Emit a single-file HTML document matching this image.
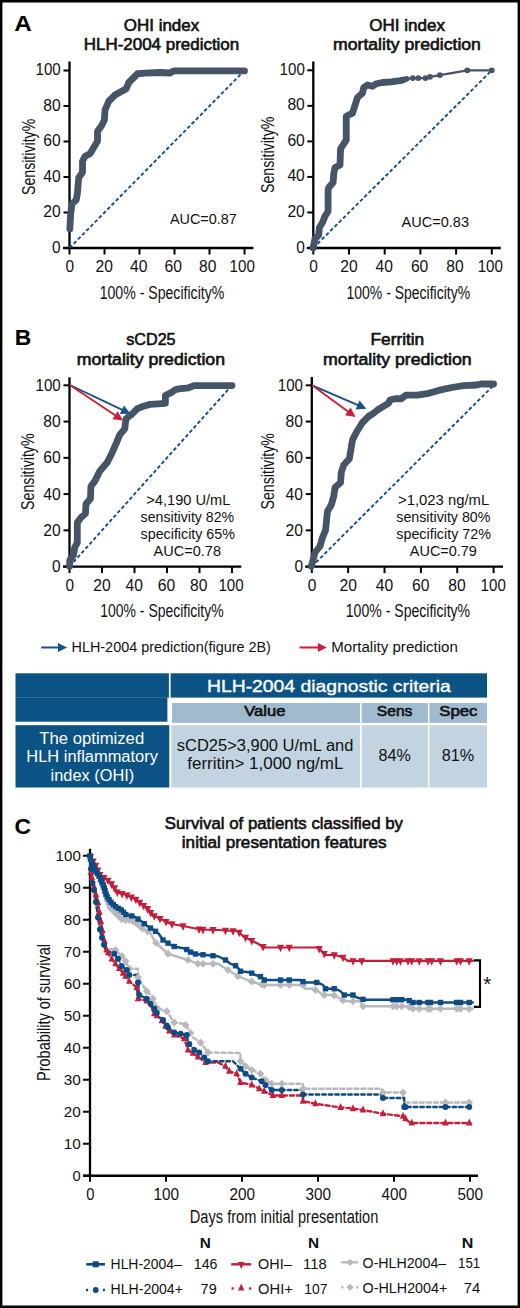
<!DOCTYPE html><html><head><meta charset="utf-8"><style>html,body{margin:0;padding:0;background:#fff}svg{display:block}</style></head><body>
<svg width="520" height="1308" viewBox="0 0 520 1308" font-family='"Liberation Sans", sans-serif'>
<rect x="0" y="0" width="520" height="1308" fill="#000"/>
<rect x="2.4" y="2.5" width="515.2" height="1303" fill="#fff"/>
<text x="14.20" y="30.60" font-size="22.5" font-weight="bold" fill="#000" text-anchor="start" textLength="17.6" lengthAdjust="spacingAndGlyphs">A</text>
<text x="123.80" y="30.60" font-size="15.8" font-weight="normal" fill="#111" text-anchor="start" textLength="75.40" lengthAdjust="spacingAndGlyphs" stroke="#111" stroke-width="0.6">OHI index</text>
<text x="83.80" y="49.60" font-size="15.8" font-weight="normal" fill="#111" text-anchor="start" textLength="155.40" lengthAdjust="spacingAndGlyphs" stroke="#111" stroke-width="0.6">HLH-2004 prediction</text>
<text x="369.30" y="30.60" font-size="15.8" font-weight="normal" fill="#111" text-anchor="start" textLength="75.60" lengthAdjust="spacingAndGlyphs" stroke="#111" stroke-width="0.6">OHI index</text>
<text x="333.10" y="49.60" font-size="15.8" font-weight="normal" fill="#111" text-anchor="start" textLength="147.80" lengthAdjust="spacingAndGlyphs" stroke="#111" stroke-width="0.6">mortality prediction</text>
<line x1="69.50" y1="61.50" x2="69.50" y2="249.10" stroke="#000" stroke-width="2.3"/>
<line x1="63.00" y1="248.00" x2="253.50" y2="248.00" stroke="#000" stroke-width="2.4"/>
<line x1="63.50" y1="248.00" x2="69.50" y2="248.00" stroke="#000" stroke-width="2.0"/>
<text x="52.10" y="252.50" font-size="16.0" font-weight="normal" fill="#111" text-anchor="start" textLength="8.60" lengthAdjust="spacingAndGlyphs">0</text>
<line x1="69.50" y1="248.00" x2="69.50" y2="254.50" stroke="#000" stroke-width="2.0"/>
<text x="65.50" y="272.30" font-size="16.0" font-weight="normal" fill="#111" text-anchor="start" textLength="8.60" lengthAdjust="spacingAndGlyphs">0</text>
<line x1="63.50" y1="212.50" x2="69.50" y2="212.50" stroke="#000" stroke-width="2.0"/>
<text x="43.30" y="217.00" font-size="16.0" font-weight="normal" fill="#111" text-anchor="start" textLength="17.40" lengthAdjust="spacingAndGlyphs">20</text>
<line x1="104.50" y1="248.00" x2="104.50" y2="254.50" stroke="#000" stroke-width="2.0"/>
<text x="95.58" y="272.30" font-size="16.0" font-weight="normal" fill="#111" text-anchor="start" textLength="17.40" lengthAdjust="spacingAndGlyphs">20</text>
<line x1="63.50" y1="177.00" x2="69.50" y2="177.00" stroke="#000" stroke-width="2.0"/>
<text x="43.30" y="181.50" font-size="16.0" font-weight="normal" fill="#111" text-anchor="start" textLength="17.40" lengthAdjust="spacingAndGlyphs">40</text>
<line x1="139.50" y1="248.00" x2="139.50" y2="254.50" stroke="#000" stroke-width="2.0"/>
<text x="130.06" y="272.30" font-size="16.0" font-weight="normal" fill="#111" text-anchor="start" textLength="17.40" lengthAdjust="spacingAndGlyphs">40</text>
<line x1="63.50" y1="141.50" x2="69.50" y2="141.50" stroke="#000" stroke-width="2.0"/>
<text x="43.30" y="146.00" font-size="16.0" font-weight="normal" fill="#111" text-anchor="start" textLength="17.40" lengthAdjust="spacingAndGlyphs">60</text>
<line x1="174.50" y1="248.00" x2="174.50" y2="254.50" stroke="#000" stroke-width="2.0"/>
<text x="164.54" y="272.30" font-size="16.0" font-weight="normal" fill="#111" text-anchor="start" textLength="17.40" lengthAdjust="spacingAndGlyphs">60</text>
<line x1="63.50" y1="106.00" x2="69.50" y2="106.00" stroke="#000" stroke-width="2.0"/>
<text x="43.30" y="110.50" font-size="16.0" font-weight="normal" fill="#111" text-anchor="start" textLength="17.40" lengthAdjust="spacingAndGlyphs">80</text>
<line x1="209.50" y1="248.00" x2="209.50" y2="254.50" stroke="#000" stroke-width="2.0"/>
<text x="199.02" y="272.30" font-size="16.0" font-weight="normal" fill="#111" text-anchor="start" textLength="17.40" lengthAdjust="spacingAndGlyphs">80</text>
<line x1="63.50" y1="70.50" x2="69.50" y2="70.50" stroke="#000" stroke-width="2.0"/>
<text x="35.50" y="75.00" font-size="16.0" font-weight="normal" fill="#111" text-anchor="start" textLength="25.20" lengthAdjust="spacingAndGlyphs">100</text>
<line x1="244.50" y1="248.00" x2="244.50" y2="254.50" stroke="#000" stroke-width="2.0"/>
<text x="229.60" y="272.30" font-size="16.0" font-weight="normal" fill="#111" text-anchor="start" textLength="25.20" lengthAdjust="spacingAndGlyphs">100</text>
<line x1="69.50" y1="248.00" x2="244.50" y2="70.50" stroke="#124d87" stroke-width="1.9" stroke-dasharray="3.6,2.4"/>
<text transform="translate(34.60,156.90) rotate(-90)" x="-38.10" y="0" font-size="18.8" fill="#111" textLength="76.20" lengthAdjust="spacingAndGlyphs">Sensitivity%</text>
<text x="99.70" y="298.50" font-size="18.8" font-weight="normal" fill="#111" text-anchor="start" textLength="124.60" lengthAdjust="spacingAndGlyphs">100% - Specificity%</text>
<text x="169.90" y="223.50" font-size="14.0" font-weight="normal" fill="#111" text-anchor="start" textLength="66.90" lengthAdjust="spacingAndGlyphs">AUC=0.87</text>
<polyline points="69.80,229.00 70.60,215.00 71.90,203.75 76.25,200.00 77.50,192.50 78.10,185.00 78.75,177.50 82.50,172.50 82.50,161.25 85.00,156.25 90.00,153.75 97.50,141.25 97.50,131.25 101.25,126.25 104.40,120.00 105.00,110.00 108.75,101.25 115.00,95.00 126.25,88.75 128.75,82.50 137.50,73.75 145.00,73.10 160.00,72.50 170.00,73.00 173.75,70.90 244.50,70.90" fill="none" stroke="#455467" stroke-width="6.8" stroke-linejoin="round" stroke-linecap="round"/>
<line x1="313.30" y1="61.50" x2="313.30" y2="249.10" stroke="#000" stroke-width="2.3"/>
<line x1="306.80" y1="248.00" x2="500.80" y2="248.00" stroke="#000" stroke-width="2.4"/>
<line x1="307.30" y1="248.00" x2="313.30" y2="248.00" stroke="#000" stroke-width="2.0"/>
<text x="296.20" y="252.50" font-size="16.0" font-weight="normal" fill="#111" text-anchor="start" textLength="8.60" lengthAdjust="spacingAndGlyphs">0</text>
<line x1="313.30" y1="248.00" x2="313.30" y2="254.50" stroke="#000" stroke-width="2.0"/>
<text x="309.30" y="272.30" font-size="16.0" font-weight="normal" fill="#111" text-anchor="start" textLength="8.60" lengthAdjust="spacingAndGlyphs">0</text>
<line x1="307.30" y1="212.46" x2="313.30" y2="212.46" stroke="#000" stroke-width="2.0"/>
<text x="287.40" y="216.96" font-size="16.0" font-weight="normal" fill="#111" text-anchor="start" textLength="17.40" lengthAdjust="spacingAndGlyphs">20</text>
<line x1="349.00" y1="248.00" x2="349.00" y2="254.50" stroke="#000" stroke-width="2.0"/>
<text x="340.24" y="272.30" font-size="16.0" font-weight="normal" fill="#111" text-anchor="start" textLength="17.40" lengthAdjust="spacingAndGlyphs">20</text>
<line x1="307.30" y1="176.92" x2="313.30" y2="176.92" stroke="#000" stroke-width="2.0"/>
<text x="287.40" y="181.42" font-size="16.0" font-weight="normal" fill="#111" text-anchor="start" textLength="17.40" lengthAdjust="spacingAndGlyphs">40</text>
<line x1="384.70" y1="248.00" x2="384.70" y2="254.50" stroke="#000" stroke-width="2.0"/>
<text x="375.58" y="272.30" font-size="16.0" font-weight="normal" fill="#111" text-anchor="start" textLength="17.40" lengthAdjust="spacingAndGlyphs">40</text>
<line x1="307.30" y1="141.38" x2="313.30" y2="141.38" stroke="#000" stroke-width="2.0"/>
<text x="287.40" y="145.88" font-size="16.0" font-weight="normal" fill="#111" text-anchor="start" textLength="17.40" lengthAdjust="spacingAndGlyphs">60</text>
<line x1="420.40" y1="248.00" x2="420.40" y2="254.50" stroke="#000" stroke-width="2.0"/>
<text x="410.92" y="272.30" font-size="16.0" font-weight="normal" fill="#111" text-anchor="start" textLength="17.40" lengthAdjust="spacingAndGlyphs">60</text>
<line x1="307.30" y1="105.84" x2="313.30" y2="105.84" stroke="#000" stroke-width="2.0"/>
<text x="287.40" y="110.34" font-size="16.0" font-weight="normal" fill="#111" text-anchor="start" textLength="17.40" lengthAdjust="spacingAndGlyphs">80</text>
<line x1="456.10" y1="248.00" x2="456.10" y2="254.50" stroke="#000" stroke-width="2.0"/>
<text x="446.26" y="272.30" font-size="16.0" font-weight="normal" fill="#111" text-anchor="start" textLength="17.40" lengthAdjust="spacingAndGlyphs">80</text>
<line x1="307.30" y1="70.30" x2="313.30" y2="70.30" stroke="#000" stroke-width="2.0"/>
<text x="279.60" y="74.80" font-size="16.0" font-weight="normal" fill="#111" text-anchor="start" textLength="25.20" lengthAdjust="spacingAndGlyphs">100</text>
<line x1="491.80" y1="248.00" x2="491.80" y2="254.50" stroke="#000" stroke-width="2.0"/>
<text x="477.70" y="272.30" font-size="16.0" font-weight="normal" fill="#111" text-anchor="start" textLength="25.20" lengthAdjust="spacingAndGlyphs">100</text>
<line x1="313.30" y1="248.00" x2="491.80" y2="70.30" stroke="#124d87" stroke-width="1.9" stroke-dasharray="3.6,2.4"/>
<text transform="translate(274.20,154.80) rotate(-90)" x="-38.30" y="0" font-size="18.8" fill="#111" textLength="76.60" lengthAdjust="spacingAndGlyphs">Sensitivity%</text>
<text x="346.50" y="298.50" font-size="18.8" font-weight="normal" fill="#111" text-anchor="start" textLength="123.60" lengthAdjust="spacingAndGlyphs">100% - Specificity%</text>
<text x="401.60" y="227.30" font-size="14.0" font-weight="normal" fill="#111" text-anchor="start" textLength="67.40" lengthAdjust="spacingAndGlyphs">AUC=0.83</text>
<polyline points="313.10,248.00 313.75,245.00 315.00,238.75 318.75,235.00 319.40,227.50 322.50,222.50 325.00,216.25 328.10,211.25 328.10,190.00 328.75,187.50 333.10,182.50 333.75,173.75 335.00,167.50 340.00,165.00 340.60,148.75 343.75,143.75 346.25,140.00 346.25,116.25 352.50,113.10 357.50,97.50 362.50,93.10 363.75,87.50 367.50,85.00 372.50,86.25 376.25,83.75 382.50,82.50 391.25,81.90 400.00,80.60 403.00,80.00" fill="none" stroke="#455467" stroke-width="6.8" stroke-linejoin="round" stroke-linecap="round"/>
<polyline points="402.76,79.90 406.51,78.83 412.77,78.12 418.31,78.12 425.47,78.12 429.94,76.87 439.95,75.10 467.30,70.30 491.80,70.30" fill="none" stroke="#455467" stroke-width="2.2" stroke-linejoin="round" stroke-linecap="round"/>
<circle cx="402.76" cy="79.90" r="2.9" fill="#455467"/>
<circle cx="406.51" cy="78.83" r="2.9" fill="#455467"/>
<circle cx="412.77" cy="78.12" r="2.9" fill="#455467"/>
<circle cx="418.31" cy="78.12" r="2.9" fill="#455467"/>
<circle cx="425.47" cy="78.12" r="2.9" fill="#455467"/>
<circle cx="429.94" cy="76.87" r="2.9" fill="#455467"/>
<circle cx="439.95" cy="75.10" r="2.9" fill="#455467"/>
<circle cx="467.30" cy="70.30" r="2.9" fill="#455467"/>
<circle cx="491.80" cy="70.30" r="2.9" fill="#455467"/>
<text x="14.80" y="345.20" font-size="22.5" font-weight="bold" fill="#000" text-anchor="start" textLength="16.5" lengthAdjust="spacingAndGlyphs">B</text>
<text x="126.30" y="345.20" font-size="15.8" font-weight="normal" fill="#111" text-anchor="start" textLength="49.30" lengthAdjust="spacingAndGlyphs" stroke="#111" stroke-width="0.6">sCD25</text>
<text x="76.80" y="364.60" font-size="15.8" font-weight="normal" fill="#111" text-anchor="start" textLength="148.20" lengthAdjust="spacingAndGlyphs" stroke="#111" stroke-width="0.6">mortality prediction</text>
<text x="370.50" y="345.20" font-size="15.8" font-weight="normal" fill="#111" text-anchor="start" textLength="53.70" lengthAdjust="spacingAndGlyphs" stroke="#111" stroke-width="0.6">Ferritin</text>
<text x="323.10" y="364.60" font-size="15.8" font-weight="normal" fill="#111" text-anchor="start" textLength="148.60" lengthAdjust="spacingAndGlyphs" stroke="#111" stroke-width="0.6">mortality prediction</text>
<line x1="69.50" y1="377.30" x2="69.50" y2="567.70" stroke="#000" stroke-width="2.3"/>
<line x1="63.00" y1="566.60" x2="241.30" y2="566.60" stroke="#000" stroke-width="2.4"/>
<line x1="63.50" y1="566.60" x2="69.50" y2="566.60" stroke="#000" stroke-width="2.0"/>
<text x="52.10" y="572.20" font-size="16.0" font-weight="normal" fill="#111" text-anchor="start" textLength="8.60" lengthAdjust="spacingAndGlyphs">0</text>
<line x1="69.50" y1="566.60" x2="69.50" y2="573.10" stroke="#000" stroke-width="2.0"/>
<text x="65.50" y="591.00" font-size="16.0" font-weight="normal" fill="#111" text-anchor="start" textLength="8.60" lengthAdjust="spacingAndGlyphs">0</text>
<line x1="63.50" y1="530.34" x2="69.50" y2="530.34" stroke="#000" stroke-width="2.0"/>
<text x="43.30" y="535.94" font-size="16.0" font-weight="normal" fill="#111" text-anchor="start" textLength="17.40" lengthAdjust="spacingAndGlyphs">20</text>
<line x1="102.00" y1="566.60" x2="102.00" y2="573.10" stroke="#000" stroke-width="2.0"/>
<text x="93.34" y="591.00" font-size="16.0" font-weight="normal" fill="#111" text-anchor="start" textLength="17.40" lengthAdjust="spacingAndGlyphs">20</text>
<line x1="63.50" y1="494.08" x2="69.50" y2="494.08" stroke="#000" stroke-width="2.0"/>
<text x="43.30" y="499.68" font-size="16.0" font-weight="normal" fill="#111" text-anchor="start" textLength="17.40" lengthAdjust="spacingAndGlyphs">40</text>
<line x1="134.50" y1="566.60" x2="134.50" y2="573.10" stroke="#000" stroke-width="2.0"/>
<text x="125.58" y="591.00" font-size="16.0" font-weight="normal" fill="#111" text-anchor="start" textLength="17.40" lengthAdjust="spacingAndGlyphs">40</text>
<line x1="63.50" y1="457.82" x2="69.50" y2="457.82" stroke="#000" stroke-width="2.0"/>
<text x="43.30" y="463.42" font-size="16.0" font-weight="normal" fill="#111" text-anchor="start" textLength="17.40" lengthAdjust="spacingAndGlyphs">60</text>
<line x1="167.00" y1="566.60" x2="167.00" y2="573.10" stroke="#000" stroke-width="2.0"/>
<text x="157.82" y="591.00" font-size="16.0" font-weight="normal" fill="#111" text-anchor="start" textLength="17.40" lengthAdjust="spacingAndGlyphs">60</text>
<line x1="63.50" y1="421.56" x2="69.50" y2="421.56" stroke="#000" stroke-width="2.0"/>
<text x="43.30" y="427.16" font-size="16.0" font-weight="normal" fill="#111" text-anchor="start" textLength="17.40" lengthAdjust="spacingAndGlyphs">80</text>
<line x1="199.50" y1="566.60" x2="199.50" y2="573.10" stroke="#000" stroke-width="2.0"/>
<text x="190.06" y="591.00" font-size="16.0" font-weight="normal" fill="#111" text-anchor="start" textLength="17.40" lengthAdjust="spacingAndGlyphs">80</text>
<line x1="63.50" y1="385.30" x2="69.50" y2="385.30" stroke="#000" stroke-width="2.0"/>
<text x="35.50" y="390.90" font-size="16.0" font-weight="normal" fill="#111" text-anchor="start" textLength="25.20" lengthAdjust="spacingAndGlyphs">100</text>
<line x1="232.00" y1="566.60" x2="232.00" y2="573.10" stroke="#000" stroke-width="2.0"/>
<text x="218.40" y="591.00" font-size="16.0" font-weight="normal" fill="#111" text-anchor="start" textLength="25.20" lengthAdjust="spacingAndGlyphs">100</text>
<line x1="69.50" y1="566.60" x2="232.00" y2="385.30" stroke="#124d87" stroke-width="1.9" stroke-dasharray="3.6,2.4"/>
<text transform="translate(34.40,471.70) rotate(-90)" x="-38.30" y="0" font-size="18.8" fill="#111" textLength="76.60" lengthAdjust="spacingAndGlyphs">Sensitivity%</text>
<text x="100.30" y="617.30" font-size="18.8" font-weight="normal" fill="#111" text-anchor="start" textLength="123.30" lengthAdjust="spacingAndGlyphs">100% - Specificity%</text>
<text x="146.30" y="505.00" font-size="14.0" font-weight="normal" fill="#111" text-anchor="start" textLength="84.10" lengthAdjust="spacingAndGlyphs">&gt;4,190 U/mL</text>
<text x="140.60" y="522.00" font-size="14.0" font-weight="normal" fill="#111" text-anchor="start" textLength="93.60" lengthAdjust="spacingAndGlyphs">sensitivity 82%</text>
<text x="140.60" y="538.80" font-size="14.0" font-weight="normal" fill="#111" text-anchor="start" textLength="94.30" lengthAdjust="spacingAndGlyphs">specificity 65%</text>
<text x="153.60" y="555.50" font-size="14.0" font-weight="normal" fill="#111" text-anchor="start" textLength="67.40" lengthAdjust="spacingAndGlyphs">AUC=0.78</text>
<polyline points="69.50,566.30 69.83,559.98 73.56,555.10 74.70,547.51 77.30,542.63 77.30,522.57 81.04,517.51 85.42,513.72 86.08,503.78 90.46,498.72 90.95,486.25 94.69,481.37 99.73,471.25 107.20,462.58 112.24,452.46 115.97,443.79 119.71,434.93 124.75,428.79 126.05,418.67 130.92,415.05 137.26,408.73 143.44,406.20 149.94,404.39 165.38,403.31 165.38,395.54 171.06,392.65 175.12,389.76 178.86,388.85 188.45,387.77 194.14,385.60 232.00,385.60" fill="none" stroke="#455467" stroke-width="6.8" stroke-linejoin="round" stroke-linecap="round"/>
<line x1="69.80" y1="385.00" x2="122.82" y2="410.16" stroke="#165189" stroke-width="1.9"/>
<polygon points="130.50,413.80 119.86,414.06 123.97,405.39" fill="#165189"/>
<line x1="69.80" y1="385.00" x2="115.93" y2="415.78" stroke="#c8203c" stroke-width="1.9"/>
<polygon points="123.00,420.50 112.43,419.22 117.76,411.23" fill="#c8203c"/>
<line x1="311.80" y1="377.00" x2="311.80" y2="567.70" stroke="#000" stroke-width="2.3"/>
<line x1="305.30" y1="566.60" x2="503.00" y2="566.60" stroke="#000" stroke-width="2.4"/>
<line x1="305.80" y1="566.60" x2="311.80" y2="566.60" stroke="#000" stroke-width="2.0"/>
<text x="294.40" y="572.20" font-size="16.0" font-weight="normal" fill="#111" text-anchor="start" textLength="8.60" lengthAdjust="spacingAndGlyphs">0</text>
<line x1="311.80" y1="566.60" x2="311.80" y2="573.10" stroke="#000" stroke-width="2.0"/>
<text x="307.80" y="591.00" font-size="16.0" font-weight="normal" fill="#111" text-anchor="start" textLength="8.60" lengthAdjust="spacingAndGlyphs">0</text>
<line x1="305.80" y1="530.34" x2="311.80" y2="530.34" stroke="#000" stroke-width="2.0"/>
<text x="285.60" y="535.94" font-size="16.0" font-weight="normal" fill="#111" text-anchor="start" textLength="17.40" lengthAdjust="spacingAndGlyphs">20</text>
<line x1="348.16" y1="566.60" x2="348.16" y2="573.10" stroke="#000" stroke-width="2.0"/>
<text x="339.62" y="591.00" font-size="16.0" font-weight="normal" fill="#111" text-anchor="start" textLength="17.40" lengthAdjust="spacingAndGlyphs">20</text>
<line x1="305.80" y1="494.08" x2="311.80" y2="494.08" stroke="#000" stroke-width="2.0"/>
<text x="285.60" y="499.68" font-size="16.0" font-weight="normal" fill="#111" text-anchor="start" textLength="17.40" lengthAdjust="spacingAndGlyphs">40</text>
<line x1="384.52" y1="566.60" x2="384.52" y2="573.10" stroke="#000" stroke-width="2.0"/>
<text x="375.84" y="591.00" font-size="16.0" font-weight="normal" fill="#111" text-anchor="start" textLength="17.40" lengthAdjust="spacingAndGlyphs">40</text>
<line x1="305.80" y1="457.82" x2="311.80" y2="457.82" stroke="#000" stroke-width="2.0"/>
<text x="285.60" y="463.42" font-size="16.0" font-weight="normal" fill="#111" text-anchor="start" textLength="17.40" lengthAdjust="spacingAndGlyphs">60</text>
<line x1="420.88" y1="566.60" x2="420.88" y2="573.10" stroke="#000" stroke-width="2.0"/>
<text x="412.06" y="591.00" font-size="16.0" font-weight="normal" fill="#111" text-anchor="start" textLength="17.40" lengthAdjust="spacingAndGlyphs">60</text>
<line x1="305.80" y1="421.56" x2="311.80" y2="421.56" stroke="#000" stroke-width="2.0"/>
<text x="285.60" y="427.16" font-size="16.0" font-weight="normal" fill="#111" text-anchor="start" textLength="17.40" lengthAdjust="spacingAndGlyphs">80</text>
<line x1="457.24" y1="566.60" x2="457.24" y2="573.10" stroke="#000" stroke-width="2.0"/>
<text x="448.28" y="591.00" font-size="16.0" font-weight="normal" fill="#111" text-anchor="start" textLength="17.40" lengthAdjust="spacingAndGlyphs">80</text>
<line x1="305.80" y1="385.30" x2="311.80" y2="385.30" stroke="#000" stroke-width="2.0"/>
<text x="277.80" y="390.90" font-size="16.0" font-weight="normal" fill="#111" text-anchor="start" textLength="25.20" lengthAdjust="spacingAndGlyphs">100</text>
<line x1="493.60" y1="566.60" x2="493.60" y2="573.10" stroke="#000" stroke-width="2.0"/>
<text x="480.60" y="591.00" font-size="16.0" font-weight="normal" fill="#111" text-anchor="start" textLength="25.20" lengthAdjust="spacingAndGlyphs">100</text>
<line x1="311.80" y1="566.60" x2="493.60" y2="385.30" stroke="#124d87" stroke-width="1.9" stroke-dasharray="3.6,2.4"/>
<text transform="translate(273.90,471.30) rotate(-90)" x="-38.25" y="0" font-size="18.8" fill="#111" textLength="76.50" lengthAdjust="spacingAndGlyphs">Sensitivity%</text>
<text x="345.80" y="617.30" font-size="18.8" font-weight="normal" fill="#111" text-anchor="start" textLength="124.30" lengthAdjust="spacingAndGlyphs">100% - Specificity%</text>
<text x="398.10" y="505.00" font-size="14.0" font-weight="normal" fill="#111" text-anchor="start" textLength="91.10" lengthAdjust="spacingAndGlyphs">&gt;1,023 ng/mL</text>
<text x="396.30" y="522.00" font-size="14.0" font-weight="normal" fill="#111" text-anchor="start" textLength="94.10" lengthAdjust="spacingAndGlyphs">sensitivity 80%</text>
<text x="396.30" y="538.80" font-size="14.0" font-weight="normal" fill="#111" text-anchor="start" textLength="94.60" lengthAdjust="spacingAndGlyphs">specificity 72%</text>
<text x="409.80" y="555.50" font-size="14.0" font-weight="normal" fill="#111" text-anchor="start" textLength="67.10" lengthAdjust="spacingAndGlyphs">AUC=0.79</text>
<polyline points="311.25,566.25 313.10,560.00 315.00,552.50 320.00,546.25 322.50,537.50 325.60,530.00 327.50,511.25 331.25,505.00 333.75,496.25 335.00,487.50 340.60,482.50 341.25,472.50 343.75,465.00 349.40,458.75 351.25,447.50 352.50,440.00 356.25,432.50 362.50,422.50 368.75,416.25 373.75,413.10 377.50,410.00 382.50,406.90 388.75,403.10 390.00,400.00 395.00,398.75 401.25,398.75 405.80,395.20 417.30,395.20 428.80,393.30 438.50,390.40 451.90,387.50 463.50,385.60 476.90,385.00 480.80,384.00 493.60,384.00" fill="none" stroke="#455467" stroke-width="6.8" stroke-linejoin="round" stroke-linecap="round"/>
<line x1="312.20" y1="385.30" x2="358.50" y2="405.41" stroke="#165189" stroke-width="1.9"/>
<polygon points="366.30,408.80 355.67,409.42 359.50,400.61" fill="#165189"/>
<line x1="312.20" y1="385.30" x2="348.64" y2="411.98" stroke="#c8203c" stroke-width="1.9"/>
<polygon points="355.50,417.00 345.00,415.26 350.67,407.52" fill="#c8203c"/>
<line x1="41.20" y1="647.50" x2="59.00" y2="647.50" stroke="#165189" stroke-width="2.0"/>
<polygon points="67.00,647.50 58.00,652.10 58.00,642.90" fill="#165189"/>
<text x="71.50" y="652.00" font-size="14.0" font-weight="normal" fill="#111" text-anchor="start" textLength="199.40" lengthAdjust="spacingAndGlyphs">HLH-2004 prediction(figure 2B)</text>
<line x1="299.50" y1="647.50" x2="318.80" y2="647.50" stroke="#c8203c" stroke-width="2.0"/>
<polygon points="326.80,647.50 317.80,652.10 317.80,642.90" fill="#c8203c"/>
<text x="331.30" y="652.00" font-size="14.0" font-weight="normal" fill="#111" text-anchor="start" textLength="126.60" lengthAdjust="spacingAndGlyphs">Mortality prediction</text>
<rect x="15.5" y="673.3" width="153.4" height="24.4" fill="#0c5385"/>
<rect x="15.5" y="697.5" width="151.9" height="24.2" fill="#0c5385"/>
<rect x="170.6" y="673.3" width="316.4" height="24.3" fill="#0c5385"/>
<rect x="172.0" y="703.0" width="188.1" height="19.9" fill="#a0bacf"/>
<rect x="361.6" y="703.0" width="66.3" height="19.9" fill="#a0bacf"/>
<rect x="429.4" y="703.0" width="57.6" height="19.9" fill="#a0bacf"/>
<rect x="15.5" y="725.2" width="153.8" height="62.3" fill="#0c5385"/>
<rect x="171.3" y="725.2" width="188.8" height="62.3" fill="#c2d4e1"/>
<rect x="361.6" y="725.2" width="66.3" height="62.3" fill="#c2d4e1"/>
<rect x="429.4" y="725.2" width="57.6" height="62.3" fill="#c2d4e1"/>
<text x="207.00" y="691.70" font-size="16.5" font-weight="normal" fill="#fff" text-anchor="start" textLength="243.80" lengthAdjust="spacingAndGlyphs" stroke="#fff" stroke-width="0.35">HLH-2004 diagnostic criteria</text>
<text x="244.30" y="716.30" font-size="14.0" font-weight="normal" fill="#111" text-anchor="start" textLength="41.10" lengthAdjust="spacingAndGlyphs" stroke="#111" stroke-width="0.6">Value</text>
<text x="376.80" y="716.30" font-size="14.0" font-weight="normal" fill="#111" text-anchor="start" textLength="35.60" lengthAdjust="spacingAndGlyphs" stroke="#111" stroke-width="0.6">Sens</text>
<text x="439.30" y="716.30" font-size="14.0" font-weight="normal" fill="#111" text-anchor="start" textLength="38.10" lengthAdjust="spacingAndGlyphs" stroke="#111" stroke-width="0.6">Spec</text>
<text x="39.30" y="743.60" font-size="16.3" font-weight="normal" fill="#fff" text-anchor="start" textLength="104.90" lengthAdjust="spacingAndGlyphs">The optimized</text>
<text x="26.30" y="762.30" font-size="16.3" font-weight="normal" fill="#fff" text-anchor="start" textLength="131.60" lengthAdjust="spacingAndGlyphs">HLH inflammatory</text>
<text x="50.60" y="781.20" font-size="16.3" font-weight="normal" fill="#fff" text-anchor="start" textLength="83.60" lengthAdjust="spacingAndGlyphs">index (OHI)</text>
<text x="176.80" y="751.30" font-size="16.0" font-weight="normal" fill="#111" text-anchor="start" textLength="176.60" lengthAdjust="spacingAndGlyphs">sCD25&gt;3,900 U/mL and</text>
<text x="187.30" y="768.80" font-size="16.0" font-weight="normal" fill="#111" text-anchor="start" textLength="156.10" lengthAdjust="spacingAndGlyphs">ferritin&gt; 1,000 ng/mL</text>
<text x="378.60" y="761.30" font-size="16.0" font-weight="normal" fill="#111" text-anchor="start" textLength="32.30" lengthAdjust="spacingAndGlyphs">84%</text>
<text x="441.80" y="761.30" font-size="16.0" font-weight="normal" fill="#111" text-anchor="start" textLength="32.40" lengthAdjust="spacingAndGlyphs">81%</text>
<text x="14.50" y="833.80" font-size="22.5" font-weight="bold" fill="#000" text-anchor="start" textLength="16.5" lengthAdjust="spacingAndGlyphs">C</text>
<text x="164.80" y="829.30" font-size="16.0" font-weight="normal" fill="#111" text-anchor="start" textLength="238.10" lengthAdjust="spacingAndGlyphs" stroke="#111" stroke-width="0.6">Survival of patients classified by</text>
<text x="181.80" y="847.50" font-size="16.0" font-weight="normal" fill="#111" text-anchor="start" textLength="204.90" lengthAdjust="spacingAndGlyphs" stroke="#111" stroke-width="0.6">initial presentation features</text>
<line x1="90.00" y1="848.80" x2="90.00" y2="1176.85" stroke="#000" stroke-width="2.3"/>
<line x1="83.00" y1="1175.75" x2="478.00" y2="1175.75" stroke="#000" stroke-width="2.4"/>
<line x1="83.00" y1="1175.75" x2="90.00" y2="1175.75" stroke="#000" stroke-width="2.0"/>
<text x="72.60" y="1181.35" font-size="15.0" font-weight="normal" fill="#111" text-anchor="start" textLength="8.20" lengthAdjust="spacingAndGlyphs">0</text>
<line x1="83.00" y1="1143.75" x2="90.00" y2="1143.75" stroke="#000" stroke-width="2.0"/>
<text x="63.80" y="1149.35" font-size="15.0" font-weight="normal" fill="#111" text-anchor="start" textLength="17.00" lengthAdjust="spacingAndGlyphs">10</text>
<line x1="83.00" y1="1111.75" x2="90.00" y2="1111.75" stroke="#000" stroke-width="2.0"/>
<text x="63.80" y="1117.35" font-size="15.0" font-weight="normal" fill="#111" text-anchor="start" textLength="17.00" lengthAdjust="spacingAndGlyphs">20</text>
<line x1="83.00" y1="1079.75" x2="90.00" y2="1079.75" stroke="#000" stroke-width="2.0"/>
<text x="63.80" y="1085.35" font-size="15.0" font-weight="normal" fill="#111" text-anchor="start" textLength="17.00" lengthAdjust="spacingAndGlyphs">30</text>
<line x1="83.00" y1="1047.75" x2="90.00" y2="1047.75" stroke="#000" stroke-width="2.0"/>
<text x="63.80" y="1053.35" font-size="15.0" font-weight="normal" fill="#111" text-anchor="start" textLength="17.00" lengthAdjust="spacingAndGlyphs">40</text>
<line x1="83.00" y1="1015.75" x2="90.00" y2="1015.75" stroke="#000" stroke-width="2.0"/>
<text x="63.80" y="1021.35" font-size="15.0" font-weight="normal" fill="#111" text-anchor="start" textLength="17.00" lengthAdjust="spacingAndGlyphs">50</text>
<line x1="83.00" y1="983.75" x2="90.00" y2="983.75" stroke="#000" stroke-width="2.0"/>
<text x="63.80" y="989.35" font-size="15.0" font-weight="normal" fill="#111" text-anchor="start" textLength="17.00" lengthAdjust="spacingAndGlyphs">60</text>
<line x1="83.00" y1="951.75" x2="90.00" y2="951.75" stroke="#000" stroke-width="2.0"/>
<text x="63.80" y="957.35" font-size="15.0" font-weight="normal" fill="#111" text-anchor="start" textLength="17.00" lengthAdjust="spacingAndGlyphs">70</text>
<line x1="83.00" y1="919.75" x2="90.00" y2="919.75" stroke="#000" stroke-width="2.0"/>
<text x="63.80" y="925.35" font-size="15.0" font-weight="normal" fill="#111" text-anchor="start" textLength="17.00" lengthAdjust="spacingAndGlyphs">80</text>
<line x1="83.00" y1="887.75" x2="90.00" y2="887.75" stroke="#000" stroke-width="2.0"/>
<text x="63.80" y="893.35" font-size="15.0" font-weight="normal" fill="#111" text-anchor="start" textLength="17.00" lengthAdjust="spacingAndGlyphs">90</text>
<line x1="83.00" y1="855.75" x2="90.00" y2="855.75" stroke="#000" stroke-width="2.0"/>
<text x="55.60" y="861.35" font-size="15.0" font-weight="normal" fill="#111" text-anchor="start" textLength="25.20" lengthAdjust="spacingAndGlyphs">100</text>
<line x1="90.00" y1="1175.75" x2="90.00" y2="1181.75" stroke="#000" stroke-width="2.0"/>
<text x="86.20" y="1199.60" font-size="15.6" font-weight="normal" fill="#111" text-anchor="start" textLength="8.20" lengthAdjust="spacingAndGlyphs">0</text>
<line x1="166.00" y1="1175.75" x2="166.00" y2="1181.75" stroke="#000" stroke-width="2.0"/>
<text x="153.55" y="1199.60" font-size="15.6" font-weight="normal" fill="#111" text-anchor="start" textLength="25.50" lengthAdjust="spacingAndGlyphs">100</text>
<line x1="242.00" y1="1175.75" x2="242.00" y2="1181.75" stroke="#000" stroke-width="2.0"/>
<text x="229.55" y="1199.60" font-size="15.6" font-weight="normal" fill="#111" text-anchor="start" textLength="25.50" lengthAdjust="spacingAndGlyphs">200</text>
<line x1="318.00" y1="1175.75" x2="318.00" y2="1181.75" stroke="#000" stroke-width="2.0"/>
<text x="305.55" y="1199.60" font-size="15.6" font-weight="normal" fill="#111" text-anchor="start" textLength="25.50" lengthAdjust="spacingAndGlyphs">300</text>
<line x1="394.00" y1="1175.75" x2="394.00" y2="1181.75" stroke="#000" stroke-width="2.0"/>
<text x="381.55" y="1199.60" font-size="15.6" font-weight="normal" fill="#111" text-anchor="start" textLength="25.50" lengthAdjust="spacingAndGlyphs">400</text>
<line x1="470.00" y1="1175.75" x2="470.00" y2="1181.75" stroke="#000" stroke-width="2.0"/>
<text x="457.55" y="1199.60" font-size="15.6" font-weight="normal" fill="#111" text-anchor="start" textLength="25.50" lengthAdjust="spacingAndGlyphs">500</text>
<text transform="translate(50.00,1012.50) rotate(-90)" x="-68.50" y="0" font-size="18.8" fill="#111" textLength="137.00" lengthAdjust="spacingAndGlyphs">Probability of survival</text>
<text x="189.80" y="1222.60" font-size="18.8" font-weight="normal" fill="#111" text-anchor="start" textLength="188.60" lengthAdjust="spacingAndGlyphs">Days from initial presentation</text>
<polyline points="473.8,960.4 480.0,960.4 480.0,1006.9 473.8,1006.9" fill="none" stroke="#000" stroke-width="2.1"/>
<text x="483.30" y="991.00" font-size="20" font-weight="normal" fill="#111" text-anchor="start" textLength="8.00" lengthAdjust="spacingAndGlyphs">*</text>
<polyline points="90.00,857.00 90.00,860.00 95.50,872.50 100.00,879.00 103.75,888.00 106.50,898.00 110.00,907.50 116.25,913.75 122.50,920.00 131.25,920.00 138.75,925.00 142.50,928.75 150.00,932.50 155.50,942.50 168.00,953.75 188.00,960.00 198.00,963.75 218.00,963.75 228.00,970.00 238.00,976.25 250.50,981.25 263.00,985.00 303.00,985.00 305.50,988.75 313.00,988.75 318.00,991.25 323.00,995.00 333.00,995.00 340.50,998.75 344.25,1001.25 360.00,1001.25 363.00,1006.30 408.00,1006.30 411.75,1008.80 472.80,1008.80" fill="none" stroke="#b9b9bd" stroke-width="2.4" stroke-linejoin="round" stroke-linecap="round" stroke-linecap="butt"/>
<polyline points="90.00,856.00 91.75,859.00 96.00,866.00 100.00,875.00 107.50,880.00 112.50,885.00 115.00,888.75 117.50,892.50 125.00,894.40 135.00,898.75 141.25,903.75 147.50,908.75 152.50,915.00 158.75,918.10 165.00,921.25 170.50,923.75 184.25,926.25 200.50,929.50 218.00,930.00 238.00,931.25 243.00,936.25 250.50,940.00 258.00,943.75 264.25,947.50 318.00,947.50 321.75,951.25 325.50,955.00 335.50,955.00 343.00,957.50 348.00,960.90 473.00,960.90" fill="none" stroke="#c41e3a" stroke-width="2.2" stroke-linejoin="round" stroke-linecap="round" stroke-linecap="butt"/>
<polyline points="90.00,856.00 90.00,858.00 95.50,871.25 100.00,877.50 103.75,886.25 106.25,895.00 110.00,901.25 115.00,906.25 121.25,910.00 126.25,915.00 133.75,916.25 141.25,921.25 147.50,926.25 153.75,930.00 158.75,933.75 163.00,940.00 173.00,946.25 185.50,948.75 193.00,953.75 218.00,956.25 225.50,960.00 230.50,963.75 236.75,966.25 240.50,971.25 250.50,972.50 255.50,975.00 261.75,977.00 264.25,980.00 300.50,980.00 304.25,982.50 318.00,982.50 323.00,985.00 325.50,988.75 335.50,988.75 340.50,991.25 344.25,995.00 353.00,995.00 356.75,997.50 364.25,999.70 408.00,999.70 411.75,1002.50 472.80,1002.50" fill="none" stroke="#0d4b86" stroke-width="2.4" stroke-linejoin="round" stroke-linecap="round" stroke-linecap="butt"/>
<polyline points="90.00,856.00 92.00,885.00 96.00,905.00 99.00,922.00 102.00,937.00 106.00,948.00 115.50,950.00 121.75,956.00 125.50,961.25 129.25,968.75 138.00,968.75 138.00,977.50 146.75,991.25 151.75,996.25 158.00,1008.75 166.75,1011.25 174.25,1022.50 184.25,1023.75 186.75,1026.25 193.00,1037.50 200.50,1042.50 208.00,1052.50 240.50,1053.00 240.50,1061.25 245.50,1066.25 251.75,1070.00 260.50,1073.75 265.50,1080.00 271.75,1083.75 303.00,1083.75 303.00,1088.75 381.75,1088.75 383.00,1092.50 403.00,1092.50 404.25,1102.50 470.50,1102.50" fill="none" stroke="#b9b9bd" stroke-width="2.4" stroke-linejoin="round" stroke-linecap="round" stroke-linecap="butt" stroke-dasharray="4,3"/>
<polyline points="90.00,856.00 90.80,872.50 94.20,887.50 98.00,902.50 100.70,920.00 103.20,935.00 106.50,950.00 110.50,957.50 115.50,963.75 120.50,970.00 125.50,976.25 129.25,981.25 136.75,987.50 138.00,998.75 148.00,1001.25 154.25,1013.75 160.50,1018.75 168.00,1030.00 174.25,1035.00 184.25,1038.75 188.00,1050.00 195.50,1055.00 205.50,1062.50 218.00,1062.50 225.50,1066.25 229.25,1071.25 236.75,1073.75 240.50,1082.50 251.75,1085.00 259.25,1088.75 264.25,1091.25 273.00,1095.50 303.00,1095.50 303.00,1101.25 315.50,1103.75 340.50,1107.50 348.00,1108.00 363.00,1110.00 383.00,1113.75 403.00,1116.25 406.75,1120.00 410.50,1123.00 470.50,1123.00" fill="none" stroke="#c41e3a" stroke-width="2.4" stroke-linejoin="round" stroke-linecap="round" stroke-linecap="butt" stroke-dasharray="4,3"/>
<polyline points="90.00,856.00 91.75,878.75 93.00,886.00 94.90,893.75 96.75,907.50 98.00,917.50 100.50,932.50 105.50,950.00 114.25,953.75 118.00,958.75 121.75,966.25 126.75,970.00 129.25,975.00 138.00,975.00 138.00,982.50 139.25,995.00 146.75,998.75 150.50,1003.75 155.50,1010.00 158.00,1016.25 163.00,1020.00 168.00,1027.50 174.25,1032.50 186.75,1035.00 188.00,1042.50 194.25,1050.00 199.25,1052.50 204.25,1057.50 208.00,1061.25 233.00,1061.25 240.50,1068.75 245.50,1073.75 251.75,1077.50 261.75,1081.25 265.50,1085.00 271.75,1090.00 303.00,1090.00 303.00,1094.50 383.00,1094.50 383.00,1098.00 404.25,1098.00 404.25,1107.00 470.50,1107.00" fill="none" stroke="#0d4b86" stroke-width="2.4" stroke-linejoin="round" stroke-linecap="round" stroke-linecap="butt" stroke-dasharray="3.5,3"/>
<polygon points="101.01,877.51 104.91,881.41 101.01,885.31 97.11,881.41" fill="#b9b9bd"/>
<polygon points="102.55,881.22 106.45,885.12 102.55,889.02 98.65,885.12" fill="#b9b9bd"/>
<polygon points="103.99,884.97 107.89,888.87 103.99,892.77 100.09,888.87" fill="#b9b9bd"/>
<polygon points="105.06,888.86 108.96,892.76 105.06,896.66 101.16,892.76" fill="#b9b9bd"/>
<polygon points="106.13,892.74 110.03,896.64 106.13,900.54 102.23,896.64" fill="#b9b9bd"/>
<polygon points="107.40,896.55 111.30,900.45 107.40,904.35 103.50,900.45" fill="#b9b9bd"/>
<polygon points="108.79,900.31 112.69,904.21 108.79,908.11 104.89,904.21" fill="#b9b9bd"/>
<polygon points="110.36,903.96 114.26,907.86 110.36,911.76 106.46,907.86" fill="#b9b9bd"/>
<polygon points="113.20,906.80 117.10,910.70 113.20,914.60 109.30,910.70" fill="#b9b9bd"/>
<polygon points="116.04,909.64 119.94,913.54 116.04,917.44 112.14,913.54" fill="#b9b9bd"/>
<polygon points="118.88,912.48 122.78,916.38 118.88,920.28 114.98,916.38" fill="#b9b9bd"/>
<polygon points="121.72,915.32 125.62,919.22 121.72,923.12 117.82,919.22" fill="#b9b9bd"/>
<polygon points="125.42,916.10 129.32,920.00 125.42,923.90 121.52,920.00" fill="#b9b9bd"/>
<polygon points="129.44,916.10 133.34,920.00 129.44,923.90 125.54,920.00" fill="#b9b9bd"/>
<polygon points="133.08,917.32 136.98,921.22 133.08,925.12 129.18,921.22" fill="#b9b9bd"/>
<polygon points="136.42,919.54 140.32,923.44 136.42,927.34 132.52,923.44" fill="#b9b9bd"/>
<polygon points="139.60,921.95 143.50,925.85 139.60,929.75 135.70,925.85" fill="#b9b9bd"/>
<polygon points="142.43,924.78 146.33,928.68 142.43,932.58 138.53,928.68" fill="#b9b9bd"/>
<polygon points="148.00,927.60 151.90,931.50 148.00,935.40 144.10,931.50" fill="#b9b9bd"/>
<polygon points="156.00,939.05 159.90,942.95 156.00,946.85 152.10,942.95" fill="#b9b9bd"/>
<polygon points="168.00,949.85 171.90,953.75 168.00,957.65 164.10,953.75" fill="#b9b9bd"/>
<polygon points="188.00,956.10 191.90,960.00 188.00,963.90 184.10,960.00" fill="#b9b9bd"/>
<polygon points="198.00,959.85 201.90,963.75 198.00,967.65 194.10,963.75" fill="#b9b9bd"/>
<polygon points="203.00,959.85 206.90,963.75 203.00,967.65 199.10,963.75" fill="#b9b9bd"/>
<polygon points="213.00,959.85 216.90,963.75 213.00,967.65 209.10,963.75" fill="#b9b9bd"/>
<polygon points="228.00,966.10 231.90,970.00 228.00,973.90 224.10,970.00" fill="#b9b9bd"/>
<polygon points="238.00,972.35 241.90,976.25 238.00,980.15 234.10,976.25" fill="#b9b9bd"/>
<polygon points="251.75,977.73 255.65,981.62 251.75,985.52 247.85,981.62" fill="#b9b9bd"/>
<polygon points="261.75,980.73 265.65,984.62 261.75,988.52 257.85,984.62" fill="#b9b9bd"/>
<polygon points="264.25,981.10 268.15,985.00 264.25,988.90 260.35,985.00" fill="#b9b9bd"/>
<polygon points="280.50,981.10 284.40,985.00 280.50,988.90 276.60,985.00" fill="#b9b9bd"/>
<polygon points="289.25,981.10 293.15,985.00 289.25,988.90 285.35,985.00" fill="#b9b9bd"/>
<polygon points="303.00,981.10 306.90,985.00 303.00,988.90 299.10,985.00" fill="#b9b9bd"/>
<polygon points="315.50,986.10 319.40,990.00 315.50,993.90 311.60,990.00" fill="#b9b9bd"/>
<polygon points="324.25,991.10 328.15,995.00 324.25,998.90 320.35,995.00" fill="#b9b9bd"/>
<polygon points="334.25,991.73 338.15,995.62 334.25,999.52 330.35,995.62" fill="#b9b9bd"/>
<polygon points="343.00,996.52 346.90,1000.42 343.00,1004.32 339.10,1000.42" fill="#b9b9bd"/>
<polygon points="353.00,997.35 356.90,1001.25 353.00,1005.15 349.10,1001.25" fill="#b9b9bd"/>
<polygon points="363.00,1002.40 366.90,1006.30 363.00,1010.20 359.10,1006.30" fill="#b9b9bd"/>
<polygon points="393.00,1002.40 396.90,1006.30 393.00,1010.20 389.10,1006.30" fill="#b9b9bd"/>
<polygon points="396.75,1002.40 400.65,1006.30 396.75,1010.20 392.85,1006.30" fill="#b9b9bd"/>
<polygon points="401.75,1002.40 405.65,1006.30 401.75,1010.20 397.85,1006.30" fill="#b9b9bd"/>
<polygon points="409.25,1003.23 413.15,1007.13 409.25,1011.03 405.35,1007.13" fill="#b9b9bd"/>
<polygon points="413.00,1004.90 416.90,1008.80 413.00,1012.70 409.10,1008.80" fill="#b9b9bd"/>
<polygon points="419.25,1004.90 423.15,1008.80 419.25,1012.70 415.35,1008.80" fill="#b9b9bd"/>
<polygon points="428.00,1004.90 431.90,1008.80 428.00,1012.70 424.10,1008.80" fill="#b9b9bd"/>
<polygon points="430.50,1004.90 434.40,1008.80 430.50,1012.70 426.60,1008.80" fill="#b9b9bd"/>
<polygon points="440.50,1004.90 444.40,1008.80 440.50,1012.70 436.60,1008.80" fill="#b9b9bd"/>
<polygon points="456.75,1004.90 460.65,1008.80 456.75,1012.70 452.85,1008.80" fill="#b9b9bd"/>
<polygon points="460.50,1004.90 464.40,1008.80 460.50,1012.70 456.60,1008.80" fill="#b9b9bd"/>
<polygon points="469.25,1004.90 473.15,1008.80 469.25,1012.70 465.35,1008.80" fill="#b9b9bd"/>
<polygon points="87.02,854.15 94.01,854.15 90.51,861.75" fill="#c41e3a"/>
<polygon points="89.62,858.51 96.61,858.51 93.11,866.11" fill="#c41e3a"/>
<polygon points="92.24,862.83 99.23,862.83 95.74,870.43" fill="#c41e3a"/>
<polygon points="94.34,867.40 101.33,867.40 97.84,875.00" fill="#c41e3a"/>
<polygon points="96.38,871.99 103.37,871.99 99.88,879.59" fill="#c41e3a"/>
<polygon points="100.42,874.88 107.41,874.88 103.92,882.48" fill="#c41e3a"/>
<polygon points="104.50,877.76 111.50,877.76 108.00,885.36" fill="#c41e3a"/>
<polygon points="108.08,881.34 115.07,881.34 111.57,888.94" fill="#c41e3a"/>
<polygon points="111.06,885.35 118.05,885.35 114.56,892.95" fill="#c41e3a"/>
<polygon points="113.84,889.51 120.83,889.51 117.33,897.11" fill="#c41e3a"/>
<polygon points="118.58,890.92 125.57,890.92 122.08,898.52" fill="#c41e3a"/>
<polygon points="123.34,892.46 130.33,892.46 126.83,900.06" fill="#c41e3a"/>
<polygon points="127.93,894.46 134.92,894.46 131.42,902.06" fill="#c41e3a"/>
<polygon points="132.36,896.70 139.36,896.70 135.86,904.30" fill="#c41e3a"/>
<polygon points="136.27,899.83 143.26,899.83 139.77,907.43" fill="#c41e3a"/>
<polygon points="140.18,902.95 147.17,902.95 143.67,910.55" fill="#c41e3a"/>
<polygon points="144.07,906.09 151.06,906.09 147.56,913.69" fill="#c41e3a"/>
<polygon points="147.19,910.00 154.18,910.00 150.69,917.60" fill="#c41e3a"/>
<polygon points="150.75,913.13 157.75,913.13 154.25,920.73" fill="#c41e3a"/>
<polygon points="156.50,915.99 163.50,915.99 160.00,923.59" fill="#c41e3a"/>
<polygon points="162.50,918.97 169.50,918.97 166.00,926.57" fill="#c41e3a"/>
<polygon points="168.50,921.29 175.50,921.29 172.00,928.89" fill="#c41e3a"/>
<polygon points="179.50,923.29 186.50,923.29 183.00,930.89" fill="#c41e3a"/>
<polygon points="195.50,926.46 202.50,926.46 199.00,934.06" fill="#c41e3a"/>
<polygon points="199.50,926.84 206.50,926.84 203.00,934.44" fill="#c41e3a"/>
<polygon points="209.50,927.12 216.50,927.12 213.00,934.72" fill="#c41e3a"/>
<polygon points="222.00,927.73 229.00,927.73 225.50,935.33" fill="#c41e3a"/>
<polygon points="229.50,928.20 236.50,928.20 233.00,935.80" fill="#c41e3a"/>
<polygon points="235.75,929.76 242.75,929.76 239.25,937.36" fill="#c41e3a"/>
<polygon points="242.00,934.76 249.00,934.76 245.50,942.36" fill="#c41e3a"/>
<polygon points="248.25,937.89 255.25,937.89 251.75,945.49" fill="#c41e3a"/>
<polygon points="259.50,944.01 266.50,944.01 263.00,951.61" fill="#c41e3a"/>
<polygon points="277.00,944.76 284.00,944.76 280.50,952.36" fill="#c41e3a"/>
<polygon points="285.75,944.76 292.75,944.76 289.25,952.36" fill="#c41e3a"/>
<polygon points="315.75,946.01 322.75,946.01 319.25,953.61" fill="#c41e3a"/>
<polygon points="320.75,951.01 327.75,951.01 324.25,958.61" fill="#c41e3a"/>
<polygon points="330.75,952.26 337.75,952.26 334.25,959.86" fill="#c41e3a"/>
<polygon points="339.50,954.76 346.50,954.76 343.00,962.36" fill="#c41e3a"/>
<polygon points="349.50,958.16 356.50,958.16 353.00,965.76" fill="#c41e3a"/>
<polygon points="358.25,958.16 365.25,958.16 361.75,965.76" fill="#c41e3a"/>
<polygon points="389.50,958.16 396.50,958.16 393.00,965.76" fill="#c41e3a"/>
<polygon points="393.25,958.16 400.25,958.16 396.75,965.76" fill="#c41e3a"/>
<polygon points="397.00,958.16 404.00,958.16 400.50,965.76" fill="#c41e3a"/>
<polygon points="404.50,958.16 411.50,958.16 408.00,965.76" fill="#c41e3a"/>
<polygon points="408.25,958.16 415.25,958.16 411.75,965.76" fill="#c41e3a"/>
<polygon points="415.75,958.16 422.75,958.16 419.25,965.76" fill="#c41e3a"/>
<polygon points="424.50,958.16 431.50,958.16 428.00,965.76" fill="#c41e3a"/>
<polygon points="428.25,958.16 435.25,958.16 431.75,965.76" fill="#c41e3a"/>
<polygon points="437.00,958.16 444.00,958.16 440.50,965.76" fill="#c41e3a"/>
<polygon points="453.25,958.16 460.25,958.16 456.75,965.76" fill="#c41e3a"/>
<polygon points="457.00,958.16 464.00,958.16 460.50,965.76" fill="#c41e3a"/>
<polygon points="465.75,958.16 472.75,958.16 469.25,965.76" fill="#c41e3a"/>
<rect x="87.30" y="853.30" width="5.4" height="5.4" fill="#0d4b86"/>
<rect x="87.76" y="856.41" width="5.4" height="5.4" fill="#0d4b86"/>
<rect x="88.99" y="859.38" width="5.4" height="5.4" fill="#0d4b86"/>
<rect x="90.22" y="862.34" width="5.4" height="5.4" fill="#0d4b86"/>
<rect x="91.45" y="865.31" width="5.4" height="5.4" fill="#0d4b86"/>
<rect x="92.68" y="868.27" width="5.4" height="5.4" fill="#0d4b86"/>
<rect x="94.49" y="870.90" width="5.4" height="5.4" fill="#0d4b86"/>
<rect x="96.36" y="873.50" width="5.4" height="5.4" fill="#0d4b86"/>
<rect x="97.93" y="876.27" width="5.4" height="5.4" fill="#0d4b86"/>
<rect x="99.19" y="879.22" width="5.4" height="5.4" fill="#0d4b86"/>
<rect x="100.46" y="882.17" width="5.4" height="5.4" fill="#0d4b86"/>
<rect x="101.52" y="885.18" width="5.4" height="5.4" fill="#0d4b86"/>
<rect x="102.40" y="888.26" width="5.4" height="5.4" fill="#0d4b86"/>
<rect x="103.28" y="891.34" width="5.4" height="5.4" fill="#0d4b86"/>
<rect x="104.70" y="894.21" width="5.4" height="5.4" fill="#0d4b86"/>
<rect x="106.36" y="896.99" width="5.4" height="5.4" fill="#0d4b86"/>
<rect x="108.30" y="899.55" width="5.4" height="5.4" fill="#0d4b86"/>
<rect x="110.59" y="901.84" width="5.4" height="5.4" fill="#0d4b86"/>
<rect x="112.99" y="903.97" width="5.4" height="5.4" fill="#0d4b86"/>
<rect x="115.77" y="905.63" width="5.4" height="5.4" fill="#0d4b86"/>
<rect x="118.55" y="907.30" width="5.4" height="5.4" fill="#0d4b86"/>
<rect x="120.84" y="909.59" width="5.4" height="5.4" fill="#0d4b86"/>
<rect x="123.12" y="911.87" width="5.4" height="5.4" fill="#0d4b86"/>
<rect x="129.05" y="913.22" width="5.4" height="5.4" fill="#0d4b86"/>
<rect x="135.30" y="916.38" width="5.4" height="5.4" fill="#0d4b86"/>
<rect x="141.55" y="920.95" width="5.4" height="5.4" fill="#0d4b86"/>
<rect x="147.80" y="925.35" width="5.4" height="5.4" fill="#0d4b86"/>
<rect x="152.80" y="928.61" width="5.4" height="5.4" fill="#0d4b86"/>
<rect x="160.30" y="937.30" width="5.4" height="5.4" fill="#0d4b86"/>
<rect x="165.30" y="940.42" width="5.4" height="5.4" fill="#0d4b86"/>
<rect x="171.55" y="943.80" width="5.4" height="5.4" fill="#0d4b86"/>
<rect x="184.05" y="946.88" width="5.4" height="5.4" fill="#0d4b86"/>
<rect x="187.80" y="949.38" width="5.4" height="5.4" fill="#0d4b86"/>
<rect x="192.80" y="951.30" width="5.4" height="5.4" fill="#0d4b86"/>
<rect x="200.30" y="952.05" width="5.4" height="5.4" fill="#0d4b86"/>
<rect x="210.30" y="953.05" width="5.4" height="5.4" fill="#0d4b86"/>
<rect x="222.80" y="957.30" width="5.4" height="5.4" fill="#0d4b86"/>
<rect x="232.80" y="963.05" width="5.4" height="5.4" fill="#0d4b86"/>
<rect x="237.80" y="968.55" width="5.4" height="5.4" fill="#0d4b86"/>
<rect x="249.05" y="970.42" width="5.4" height="5.4" fill="#0d4b86"/>
<rect x="257.80" y="973.90" width="5.4" height="5.4" fill="#0d4b86"/>
<rect x="261.55" y="977.30" width="5.4" height="5.4" fill="#0d4b86"/>
<rect x="277.80" y="977.30" width="5.4" height="5.4" fill="#0d4b86"/>
<rect x="286.55" y="977.30" width="5.4" height="5.4" fill="#0d4b86"/>
<rect x="300.30" y="978.97" width="5.4" height="5.4" fill="#0d4b86"/>
<rect x="314.05" y="979.80" width="5.4" height="5.4" fill="#0d4b86"/>
<rect x="322.80" y="986.05" width="5.4" height="5.4" fill="#0d4b86"/>
<rect x="331.55" y="986.05" width="5.4" height="5.4" fill="#0d4b86"/>
<rect x="341.55" y="992.30" width="5.4" height="5.4" fill="#0d4b86"/>
<rect x="350.30" y="992.30" width="5.4" height="5.4" fill="#0d4b86"/>
<rect x="360.30" y="996.63" width="5.4" height="5.4" fill="#0d4b86"/>
<rect x="390.30" y="997.00" width="5.4" height="5.4" fill="#0d4b86"/>
<rect x="394.05" y="997.00" width="5.4" height="5.4" fill="#0d4b86"/>
<rect x="399.05" y="997.00" width="5.4" height="5.4" fill="#0d4b86"/>
<rect x="406.55" y="997.93" width="5.4" height="5.4" fill="#0d4b86"/>
<rect x="410.30" y="999.80" width="5.4" height="5.4" fill="#0d4b86"/>
<rect x="416.55" y="999.80" width="5.4" height="5.4" fill="#0d4b86"/>
<rect x="425.30" y="999.80" width="5.4" height="5.4" fill="#0d4b86"/>
<rect x="427.80" y="999.80" width="5.4" height="5.4" fill="#0d4b86"/>
<rect x="437.80" y="999.80" width="5.4" height="5.4" fill="#0d4b86"/>
<rect x="454.05" y="999.80" width="5.4" height="5.4" fill="#0d4b86"/>
<rect x="457.80" y="999.80" width="5.4" height="5.4" fill="#0d4b86"/>
<rect x="466.55" y="999.80" width="5.4" height="5.4" fill="#0d4b86"/>
<polygon points="115.50,946.10 119.40,950.00 115.50,953.90 111.60,950.00" fill="#b9b9bd"/>
<polygon points="121.75,952.10 125.65,956.00 121.75,959.90 117.85,956.00" fill="#b9b9bd"/>
<polygon points="125.50,957.35 129.40,961.25 125.50,965.15 121.60,961.25" fill="#b9b9bd"/>
<polygon points="129.25,964.85 133.15,968.75 129.25,972.65 125.35,968.75" fill="#b9b9bd"/>
<polygon points="138.00,973.60 141.90,977.50 138.00,981.40 134.10,977.50" fill="#b9b9bd"/>
<polygon points="146.75,987.35 150.65,991.25 146.75,995.15 142.85,991.25" fill="#b9b9bd"/>
<polygon points="153.00,994.85 156.90,998.75 153.00,1002.65 149.10,998.75" fill="#b9b9bd"/>
<polygon points="158.00,1004.85 161.90,1008.75 158.00,1012.65 154.10,1008.75" fill="#b9b9bd"/>
<polygon points="166.75,1007.35 170.65,1011.25 166.75,1015.15 162.85,1011.25" fill="#b9b9bd"/>
<polygon points="174.25,1018.60 178.15,1022.50 174.25,1026.40 170.35,1022.50" fill="#b9b9bd"/>
<polygon points="185.50,1021.10 189.40,1025.00 185.50,1028.90 181.60,1025.00" fill="#b9b9bd"/>
<polygon points="190.50,1029.10 194.40,1033.00 190.50,1036.90 186.60,1033.00" fill="#b9b9bd"/>
<polygon points="200.50,1038.60 204.40,1042.50 200.50,1046.40 196.60,1042.50" fill="#b9b9bd"/>
<polygon points="208.00,1048.60 211.90,1052.50 208.00,1056.40 204.10,1052.50" fill="#b9b9bd"/>
<polygon points="240.50,1057.35 244.40,1061.25 240.50,1065.15 236.60,1061.25" fill="#b9b9bd"/>
<polygon points="245.50,1062.35 249.40,1066.25 245.50,1070.15 241.60,1066.25" fill="#b9b9bd"/>
<polygon points="251.75,1066.10 255.65,1070.00 251.75,1073.90 247.85,1070.00" fill="#b9b9bd"/>
<polygon points="260.50,1069.85 264.40,1073.75 260.50,1077.65 256.60,1073.75" fill="#b9b9bd"/>
<polygon points="265.50,1076.10 269.40,1080.00 265.50,1083.90 261.60,1080.00" fill="#b9b9bd"/>
<polygon points="271.75,1079.85 275.65,1083.75 271.75,1087.65 267.85,1083.75" fill="#b9b9bd"/>
<polygon points="281.75,1079.85 285.65,1083.75 281.75,1087.65 277.85,1083.75" fill="#b9b9bd"/>
<polygon points="303.00,1084.85 306.90,1088.75 303.00,1092.65 299.10,1088.75" fill="#b9b9bd"/>
<polygon points="383.00,1088.60 386.90,1092.50 383.00,1096.40 379.10,1092.50" fill="#b9b9bd"/>
<polygon points="403.00,1088.60 406.90,1092.50 403.00,1096.40 399.10,1092.50" fill="#b9b9bd"/>
<polygon points="445.50,1098.60 449.40,1102.50 445.50,1106.40 441.60,1102.50" fill="#b9b9bd"/>
<polygon points="469.25,1098.60 473.15,1102.50 469.25,1106.40 465.35,1102.50" fill="#b9b9bd"/>
<polygon points="87.58,875.02 94.02,875.02 90.80,868.02" fill="#c41e3a"/>
<polygon points="88.78,880.31 95.22,880.31 92.00,873.31" fill="#c41e3a"/>
<polygon points="90.78,889.14 97.22,889.14 94.00,882.14" fill="#c41e3a"/>
<polygon points="92.78,897.13 99.22,897.13 96.00,890.13" fill="#c41e3a"/>
<polygon points="94.78,905.02 101.22,905.02 98.00,898.02" fill="#c41e3a"/>
<polygon points="96.28,914.74 102.72,914.74 99.50,907.74" fill="#c41e3a"/>
<polygon points="97.78,924.32 104.22,924.32 101.00,917.32" fill="#c41e3a"/>
<polygon points="99.28,933.32 105.72,933.32 102.50,926.32" fill="#c41e3a"/>
<polygon points="101.28,943.43 107.72,943.43 104.50,936.43" fill="#c41e3a"/>
<polygon points="103.28,952.52 109.72,952.52 106.50,945.52" fill="#c41e3a"/>
<polygon points="104.78,955.33 111.22,955.33 108.00,948.33" fill="#c41e3a"/>
<polygon points="108.53,961.58 114.97,961.58 111.75,954.58" fill="#c41e3a"/>
<polygon points="112.28,966.27 118.72,966.27 115.50,959.27" fill="#c41e3a"/>
<polygon points="116.03,970.96 122.47,970.96 119.25,963.96" fill="#c41e3a"/>
<polygon points="119.78,975.64 126.22,975.64 123.00,968.64" fill="#c41e3a"/>
<polygon points="122.28,978.77 128.72,978.77 125.50,971.77" fill="#c41e3a"/>
<polygon points="126.03,983.77 132.47,983.77 129.25,976.77" fill="#c41e3a"/>
<polygon points="133.53,990.02 139.97,990.02 136.75,983.02" fill="#c41e3a"/>
<polygon points="134.78,1001.27 141.22,1001.27 138.00,994.27" fill="#c41e3a"/>
<polygon points="143.53,1003.46 149.97,1003.46 146.75,996.46" fill="#c41e3a"/>
<polygon points="151.03,1016.27 157.47,1016.27 154.25,1009.27" fill="#c41e3a"/>
<polygon points="153.53,1018.27 159.97,1018.27 156.75,1011.27" fill="#c41e3a"/>
<polygon points="158.53,1023.14 164.97,1023.14 161.75,1016.14" fill="#c41e3a"/>
<polygon points="162.28,1028.77 168.72,1028.77 165.50,1021.77" fill="#c41e3a"/>
<polygon points="166.03,1033.52 172.47,1033.52 169.25,1026.52" fill="#c41e3a"/>
<polygon points="171.03,1037.52 177.47,1037.52 174.25,1030.52" fill="#c41e3a"/>
<polygon points="181.03,1041.27 187.47,1041.27 184.25,1034.27" fill="#c41e3a"/>
<polygon points="184.78,1052.52 191.22,1052.52 188.00,1045.52" fill="#c41e3a"/>
<polygon points="189.78,1055.85 196.22,1055.85 193.00,1048.85" fill="#c41e3a"/>
<polygon points="194.78,1059.39 201.22,1059.39 198.00,1052.39" fill="#c41e3a"/>
<polygon points="202.28,1065.02 208.72,1065.02 205.50,1058.02" fill="#c41e3a"/>
<polygon points="222.28,1068.77 228.72,1068.77 225.50,1061.77" fill="#c41e3a"/>
<polygon points="226.03,1073.77 232.47,1073.77 229.25,1066.77" fill="#c41e3a"/>
<polygon points="233.53,1076.27 239.97,1076.27 236.75,1069.27" fill="#c41e3a"/>
<polygon points="237.28,1085.02 243.72,1085.02 240.50,1078.02" fill="#c41e3a"/>
<polygon points="248.53,1087.52 254.97,1087.52 251.75,1080.52" fill="#c41e3a"/>
<polygon points="256.03,1091.27 262.47,1091.27 259.25,1084.27" fill="#c41e3a"/>
<polygon points="261.03,1093.77 267.47,1093.77 264.25,1086.77" fill="#c41e3a"/>
<polygon points="269.78,1098.02 276.22,1098.02 273.00,1091.02" fill="#c41e3a"/>
<polygon points="278.53,1098.02 284.97,1098.02 281.75,1091.02" fill="#c41e3a"/>
<polygon points="299.78,1103.77 306.22,1103.77 303.00,1096.77" fill="#c41e3a"/>
<polygon points="312.28,1106.27 318.72,1106.27 315.50,1099.27" fill="#c41e3a"/>
<polygon points="337.28,1110.02 343.72,1110.02 340.50,1103.02" fill="#c41e3a"/>
<polygon points="349.78,1111.19 356.22,1111.19 353.00,1104.19" fill="#c41e3a"/>
<polygon points="359.78,1112.52 366.22,1112.52 363.00,1105.52" fill="#c41e3a"/>
<polygon points="379.78,1116.27 386.22,1116.27 383.00,1109.27" fill="#c41e3a"/>
<polygon points="399.78,1118.77 406.22,1118.77 403.00,1111.77" fill="#c41e3a"/>
<polygon points="402.28,1121.27 408.72,1121.27 405.50,1114.27" fill="#c41e3a"/>
<polygon points="408.53,1125.52 414.97,1125.52 411.75,1118.52" fill="#c41e3a"/>
<polygon points="442.28,1125.52 448.72,1125.52 445.50,1118.52" fill="#c41e3a"/>
<polygon points="466.03,1125.52 472.47,1125.52 469.25,1118.52" fill="#c41e3a"/>
<circle cx="91.00" cy="869.00" r="3.0" fill="#0d4b86"/>
<circle cx="92.50" cy="883.10" r="3.0" fill="#0d4b86"/>
<circle cx="94.00" cy="890.08" r="3.0" fill="#0d4b86"/>
<circle cx="96.00" cy="901.93" r="3.0" fill="#0d4b86"/>
<circle cx="98.00" cy="917.50" r="3.0" fill="#0d4b86"/>
<circle cx="100.00" cy="929.50" r="3.0" fill="#0d4b86"/>
<circle cx="102.00" cy="937.75" r="3.0" fill="#0d4b86"/>
<circle cx="104.00" cy="944.75" r="3.0" fill="#0d4b86"/>
<circle cx="114.25" cy="953.75" r="3.0" fill="#0d4b86"/>
<circle cx="118.00" cy="958.75" r="3.0" fill="#0d4b86"/>
<circle cx="121.75" cy="966.25" r="3.0" fill="#0d4b86"/>
<circle cx="126.75" cy="970.00" r="3.0" fill="#0d4b86"/>
<circle cx="129.25" cy="975.00" r="3.0" fill="#0d4b86"/>
<circle cx="138.00" cy="982.50" r="3.0" fill="#0d4b86"/>
<circle cx="139.25" cy="995.00" r="3.0" fill="#0d4b86"/>
<circle cx="146.75" cy="998.75" r="3.0" fill="#0d4b86"/>
<circle cx="150.50" cy="1003.75" r="3.0" fill="#0d4b86"/>
<circle cx="154.25" cy="1008.44" r="3.0" fill="#0d4b86"/>
<circle cx="156.75" cy="1013.12" r="3.0" fill="#0d4b86"/>
<circle cx="163.00" cy="1020.00" r="3.0" fill="#0d4b86"/>
<circle cx="166.75" cy="1025.62" r="3.0" fill="#0d4b86"/>
<circle cx="168.00" cy="1027.50" r="3.0" fill="#0d4b86"/>
<circle cx="174.25" cy="1032.50" r="3.0" fill="#0d4b86"/>
<circle cx="180.50" cy="1033.75" r="3.0" fill="#0d4b86"/>
<circle cx="186.75" cy="1035.00" r="3.0" fill="#0d4b86"/>
<circle cx="189.25" cy="1044.00" r="3.0" fill="#0d4b86"/>
<circle cx="194.25" cy="1050.00" r="3.0" fill="#0d4b86"/>
<circle cx="199.25" cy="1052.50" r="3.0" fill="#0d4b86"/>
<circle cx="204.25" cy="1057.50" r="3.0" fill="#0d4b86"/>
<circle cx="208.00" cy="1061.25" r="3.0" fill="#0d4b86"/>
<circle cx="240.50" cy="1068.75" r="3.0" fill="#0d4b86"/>
<circle cx="245.50" cy="1073.75" r="3.0" fill="#0d4b86"/>
<circle cx="251.75" cy="1077.50" r="3.0" fill="#0d4b86"/>
<circle cx="261.75" cy="1081.25" r="3.0" fill="#0d4b86"/>
<circle cx="265.50" cy="1085.00" r="3.0" fill="#0d4b86"/>
<circle cx="271.75" cy="1090.00" r="3.0" fill="#0d4b86"/>
<circle cx="281.75" cy="1090.00" r="3.0" fill="#0d4b86"/>
<circle cx="303.00" cy="1094.50" r="3.0" fill="#0d4b86"/>
<circle cx="383.00" cy="1098.00" r="3.0" fill="#0d4b86"/>
<circle cx="404.25" cy="1107.00" r="3.0" fill="#0d4b86"/>
<circle cx="405.50" cy="1107.00" r="3.0" fill="#0d4b86"/>
<circle cx="445.50" cy="1107.00" r="3.0" fill="#0d4b86"/>
<circle cx="469.25" cy="1107.00" r="3.0" fill="#0d4b86"/>
<text x="199.80" y="1247.50" font-size="15.0" font-weight="bold" fill="#111" text-anchor="start" textLength="11.10" lengthAdjust="spacingAndGlyphs">N</text>
<text x="308.10" y="1247.50" font-size="15.0" font-weight="bold" fill="#111" text-anchor="start" textLength="11.10" lengthAdjust="spacingAndGlyphs">N</text>
<text x="461.80" y="1247.50" font-size="15.0" font-weight="bold" fill="#111" text-anchor="start" textLength="11.60" lengthAdjust="spacingAndGlyphs">N</text>
<line x1="86.20" y1="1264.30" x2="105.00" y2="1264.30" stroke="#0d4b86" stroke-width="2.6"/>
<rect x="92.70" y="1261.30" width="6.0" height="6.0" fill="#0d4b86"/>
<text x="110.60" y="1269.20" font-size="14.0" font-weight="normal" fill="#111" text-anchor="start" textLength="71.10" lengthAdjust="spacingAndGlyphs">HLH-2004–</text>
<text x="193.80" y="1269.20" font-size="14.0" font-weight="normal" fill="#111" text-anchor="start" textLength="23.60" lengthAdjust="spacingAndGlyphs">146</text>
<line x1="86.00" y1="1290.00" x2="88.20" y2="1290.00" stroke="#0d4b86" stroke-width="2.4"/>
<line x1="102.80" y1="1290.00" x2="105.00" y2="1290.00" stroke="#0d4b86" stroke-width="2.4"/>
<circle cx="95.70" cy="1290.00" r="2.9" fill="#0d4b86"/>
<text x="110.60" y="1294.30" font-size="14.0" font-weight="normal" fill="#111" text-anchor="start" textLength="72.30" lengthAdjust="spacingAndGlyphs">HLH-2004+</text>
<text x="200.60" y="1294.30" font-size="14.0" font-weight="normal" fill="#111" text-anchor="start" textLength="16.10" lengthAdjust="spacingAndGlyphs">79</text>
<line x1="231.20" y1="1264.30" x2="251.20" y2="1264.30" stroke="#c41e3a" stroke-width="2.4"/>
<polygon points="237.98,1262.08 244.42,1262.08 241.20,1269.08" fill="#c41e3a"/>
<text x="258.10" y="1269.20" font-size="14.0" font-weight="normal" fill="#111" text-anchor="start" textLength="33.60" lengthAdjust="spacingAndGlyphs">OHI–</text>
<text x="303.10" y="1269.20" font-size="14.0" font-weight="normal" fill="#111" text-anchor="start" textLength="23.60" lengthAdjust="spacingAndGlyphs">118</text>
<line x1="231.50" y1="1288.50" x2="233.70" y2="1288.50" stroke="#c41e3a" stroke-width="2.4"/>
<line x1="249.00" y1="1288.50" x2="251.20" y2="1288.50" stroke="#c41e3a" stroke-width="2.4"/>
<polygon points="237.98,1290.52 244.42,1290.52 241.20,1283.52" fill="#c41e3a"/>
<text x="258.10" y="1293.50" font-size="14.0" font-weight="normal" fill="#111" text-anchor="start" textLength="34.80" lengthAdjust="spacingAndGlyphs">OHI+</text>
<text x="304.30" y="1293.50" font-size="14.0" font-weight="normal" fill="#111" text-anchor="start" textLength="23.10" lengthAdjust="spacingAndGlyphs">107</text>
<line x1="341.20" y1="1262.30" x2="358.00" y2="1262.30" stroke="#b9b9bd" stroke-width="2.4"/>
<polygon points="350.00,1258.70 353.60,1262.30 350.00,1265.90 346.40,1262.30" fill="#b9b9bd"/>
<text x="362.60" y="1267.50" font-size="14.0" font-weight="normal" fill="#111" text-anchor="start" textLength="83.60" lengthAdjust="spacingAndGlyphs">O-HLH2004–</text>
<text x="458.00" y="1267.50" font-size="14.0" font-weight="normal" fill="#111" text-anchor="start" textLength="22.20" lengthAdjust="spacingAndGlyphs">151</text>
<line x1="341.20" y1="1287.30" x2="343.40" y2="1287.30" stroke="#b9b9bd" stroke-width="2.4"/>
<line x1="356.00" y1="1287.30" x2="358.20" y2="1287.30" stroke="#b9b9bd" stroke-width="2.4"/>
<polygon points="350.00,1283.70 353.60,1287.30 350.00,1290.90 346.40,1287.30" fill="#b9b9bd"/>
<text x="362.60" y="1293.00" font-size="14.0" font-weight="normal" fill="#111" text-anchor="start" textLength="84.80" lengthAdjust="spacingAndGlyphs">O-HLH2004+</text>
<text x="463.70" y="1293.00" font-size="14.0" font-weight="normal" fill="#111" text-anchor="start" textLength="16.50" lengthAdjust="spacingAndGlyphs">74</text>
</svg></body></html>
